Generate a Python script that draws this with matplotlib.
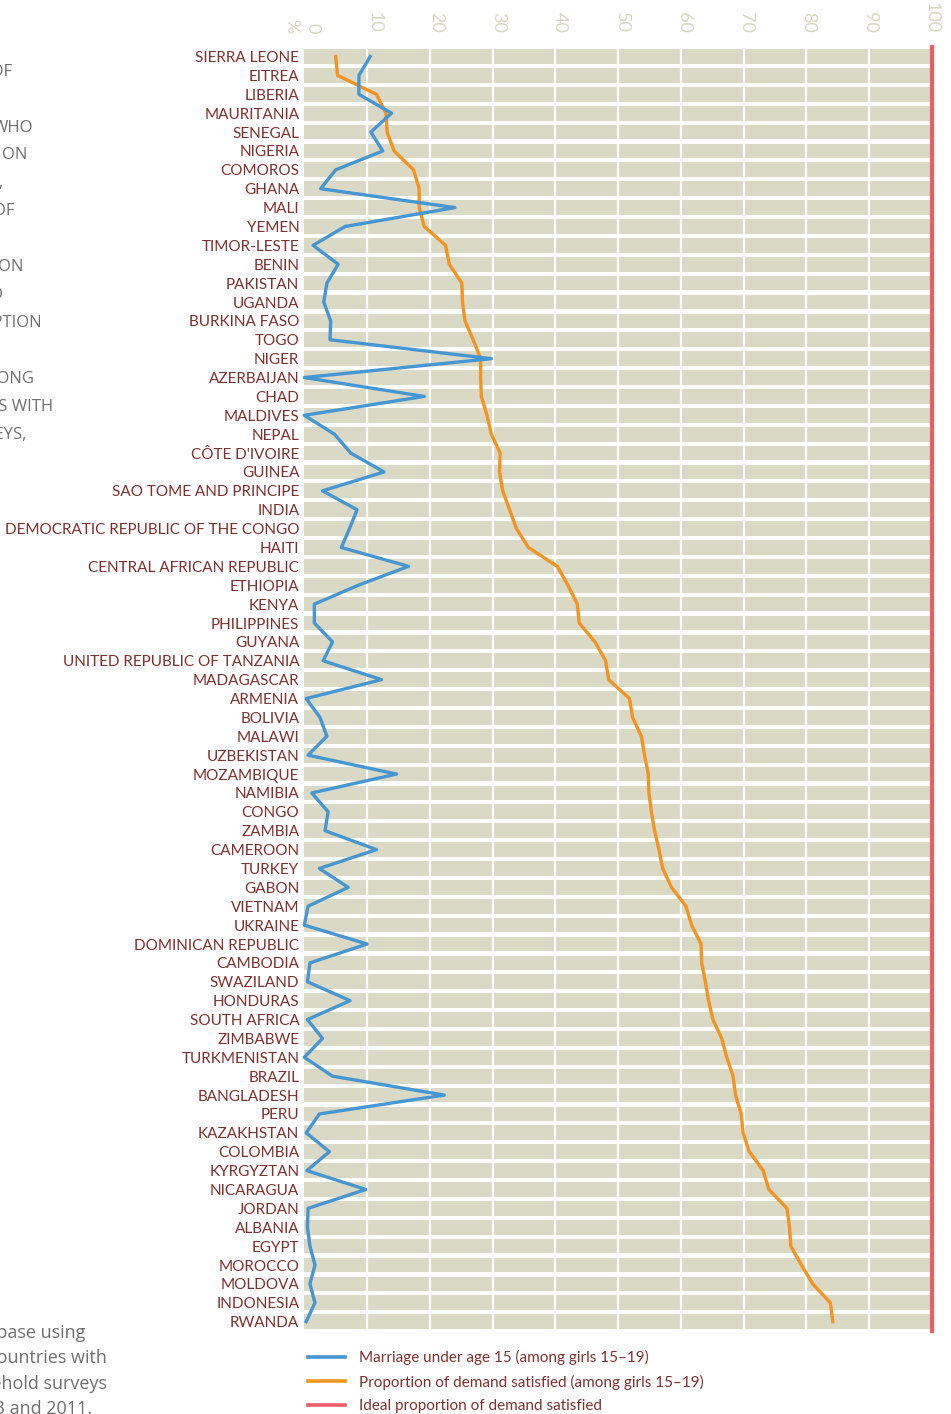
import numpy as np
import matplotlib
matplotlib.use("Agg")
import matplotlib.pyplot as plt

countries = [
    "SIERRA LEONE", "EITREA", "LIBERIA", "MAURITANIA", "SENEGAL", "NIGERIA",
    "COMOROS", "GHANA", "MALI", "YEMEN", "TIMOR-LESTE", "BENIN", "PAKISTAN",
    "UGANDA", "BURKINA FASO", "TOGO", "NIGER", "AZERBAIJAN", "CHAD", "MALDIVES",
    "NEPAL", "CÔTE D'IVOIRE", "GUINEA", "SAO TOME AND PRINCIPE", "INDIA",
    "DEMOCRATIC REPUBLIC OF THE CONGO", "HAITI", "CENTRAL AFRICAN REPUBLIC",
    "ETHIOPIA", "KENYA", "PHILIPPINES", "GUYANA", "UNITED REPUBLIC OF TANZANIA",
    "MADAGASCAR", "ARMENIA", "BOLIVIA", "MALAWI", "UZBEKISTAN", "MOZAMBIQUE",
    "NAMIBIA", "CONGO", "ZAMBIA", "CAMEROON", "TURKEY", "GABON", "VIETNAM",
    "UKRAINE", "DOMINICAN REPUBLIC", "CAMBODIA", "SWAZILAND", "HONDURAS",
    "SOUTH AFRICA", "ZIMBABWE", "TURKMENISTAN", "BRAZIL", "BANGLADESH", "PERU",
    "KAZAKHSTAN", "COLOMBIA", "KYRGYZTAN", "NICARAGUA", "JORDAN", "ALBANIA",
    "EGYPT", "MOROCCO", "MOLDOVA", "INDONESIA", "RWANDA",
]

# marriage under age 15 (% of girls 15-19)
marriage_u15 = [
    10.5, 8.7, 8.7, 13.9, 10.6, 12.5, 5.0, 2.6, 24.0, 6.5,
    1.4, 5.4, 3.6, 3.1, 4.2, 4.1, 29.8, 0.0, 19.1, 0.0,
    4.8, 7.4, 12.7, 2.9, 8.4, 7.2, 5.9, 16.6, 8.6, 1.6,
    1.6, 4.5, 3.0, 12.3, 0.3, 2.5, 3.6, 0.6, 14.7, 1.2,
    3.8, 3.3, 11.5, 2.4, 7.0, 0.6, 0.0, 10.0, 0.9, 0.5,
    7.3, 0.5, 2.9, 0.0, 4.5, 22.3, 2.4, 0.3, 4.0, 0.4,
    9.8, 0.6, 0.5, 0.9, 1.7, 0.9, 1.7, 0.3,
]

# proportion of demand satisfied (% of girls 15-19)
demand_sat = [
    5.0, 5.3, 11.5, 13.0, 13.2, 14.3, 17.4, 18.3, 18.3, 19.1,
    22.5, 23.1, 25.1, 25.2, 25.6, 26.9, 28.1, 28.1, 28.2, 29.1,
    29.8, 31.2, 31.1, 31.6, 32.7, 33.8, 35.7, 40.3, 42.0, 43.5,
    43.8, 46.3, 48.0, 48.5, 51.8, 52.3, 53.7, 54.2, 54.8, 54.9,
    55.3, 55.8, 56.5, 57.1, 58.5, 60.8, 61.7, 63.2, 63.3, 63.9,
    64.4, 65.1, 66.5, 67.3, 68.3, 68.7, 69.6, 69.9, 70.9, 73.1,
    74.0, 76.9, 77.3, 77.5, 79.2, 81.0, 83.8, 84.2,
]

ideal = 100
x_ticks = [0, 10, 20, 30, 40, 50, 60, 70, 80, 90, 100]

legend_labels = [
    "Marriage under age 15 (among girls 15–19)",
    "Proportion of demand satisfied (among girls 15–19)",
    "Ideal proportion of demand satisfied",
]

BLUE = "#4596d2"
ORANGE = "#f39322"
RED = "#ec5e66"
BAR = "#d9d9c5"
LABEL = "#7b3230"
TICK = "#d6d7c2"
GRAY = "#6f6f6f"

W, H = 951, 1414
fig = plt.figure(figsize=(W / 100, H / 100), dpi=100)
fig.patch.set_facecolor("white")

x0, x1 = 304.3, 932.0
top, bot = 47.1, 1331.1
ax = fig.add_axes([x0 / W, 1 - bot / H, (x1 - x0) / W, (bot - top) / H])

y = np.arange(len(countries))
ax.barh(y, 100, height=0.78, color=BAR, left=0, zorder=1)
for v in x_ticks[1:-1]:
    ax.axvline(v, color="white", lw=1.6, zorder=2)

ax.plot(demand_sat, y, color=ORANGE, lw=2.4, zorder=3, clip_on=False,
        label=legend_labels[1])
ax.plot(marriage_u15, y, color=BLUE, lw=2.4, zorder=4, clip_on=False,
        label=legend_labels[0])
ax.axvline(ideal, color=RED, lw=3, zorder=5, clip_on=False,
           label=legend_labels[2])

ax.set_xlim(0, 100)
ax.set_ylim(len(countries) - 0.5, -0.5)
for s in ax.spines.values():
    s.set_visible(False)
ax.set_xticks([])
ax.set_yticks(y)
ax.set_yticklabels(countries, family="Lato", fontsize=11.0, color=LABEL)
ax.tick_params(axis="y", length=0, pad=3.6)

# rotated scale labels above the bars
for v in x_ticks:
    off = (8 - 0.085 * v) * 0.72
    ax.annotate(str(v), xy=(v, 1), xycoords=("data", "axes fraction"),
                xytext=(off, 10), textcoords="offset points", rotation=-90,
                ha="center", va="bottom", family="Lato", fontsize=13,
                color=TICK)
ax.annotate("%", xy=(0, 1), xycoords=("data", "axes fraction"),
            xytext=(-9.5, 10), textcoords="offset points", rotation=-90,
            ha="center", va="bottom", family="Lato", fontsize=13, color=TICK)

# legend
handles, labels = ax.get_legend_handles_labels()
order = [labels.index(l) for l in legend_labels]
leg = fig.legend([handles[i] for i in order], [labels[i] for i in order],
                 loc="upper left", bbox_to_anchor=(308 / W, 1 - 1350 / H),
                 frameon=False, borderpad=0, borderaxespad=0,
                 handlelength=2.4, handletextpad=0.95, labelspacing=0.62,
                 prop={"family": "Lato", "size": 11})
for t in leg.get_texts():
    t.set_color(LABEL)
for lh in leg.get_lines():
    lh.set_linewidth(2.6)

# text from the neighbouring column, cut off at the left edge
side_text = [
    ("RATES OF", 12, 72), ("WHO", 33, 128), ("ON", 27, 155), ("15,", 4, 183),
    ("OF", 15, 211), ("ON", 23, 267), ("AND", 3, 295),
    ("CONTRACEPTION", 42, 323), ("AMONG", 34, 379),
    ("COUNTRIES WITH", 53, 407), ("SURVEYS,", 26, 435),
]
for txt, xr, yc in side_text:
    fig.text(xr / W, 1 - yc / H, txt, ha="right", va="center",
             family="Open Sans", fontsize=12, color=GRAY)

note_text = [
    ("database using", 85, 1333), ("countries with", 107, 1358),
    ("household surveys", 107, 1384), ("2003 and 2011.", 92, 1409),
]
for txt, xr, yc in note_text:
    fig.text(xr / W, 1 - yc / H, txt, ha="right", va="center",
             family="Open Sans", fontsize=13, color=GRAY)

fig.savefig("out.png", dpi=100)
